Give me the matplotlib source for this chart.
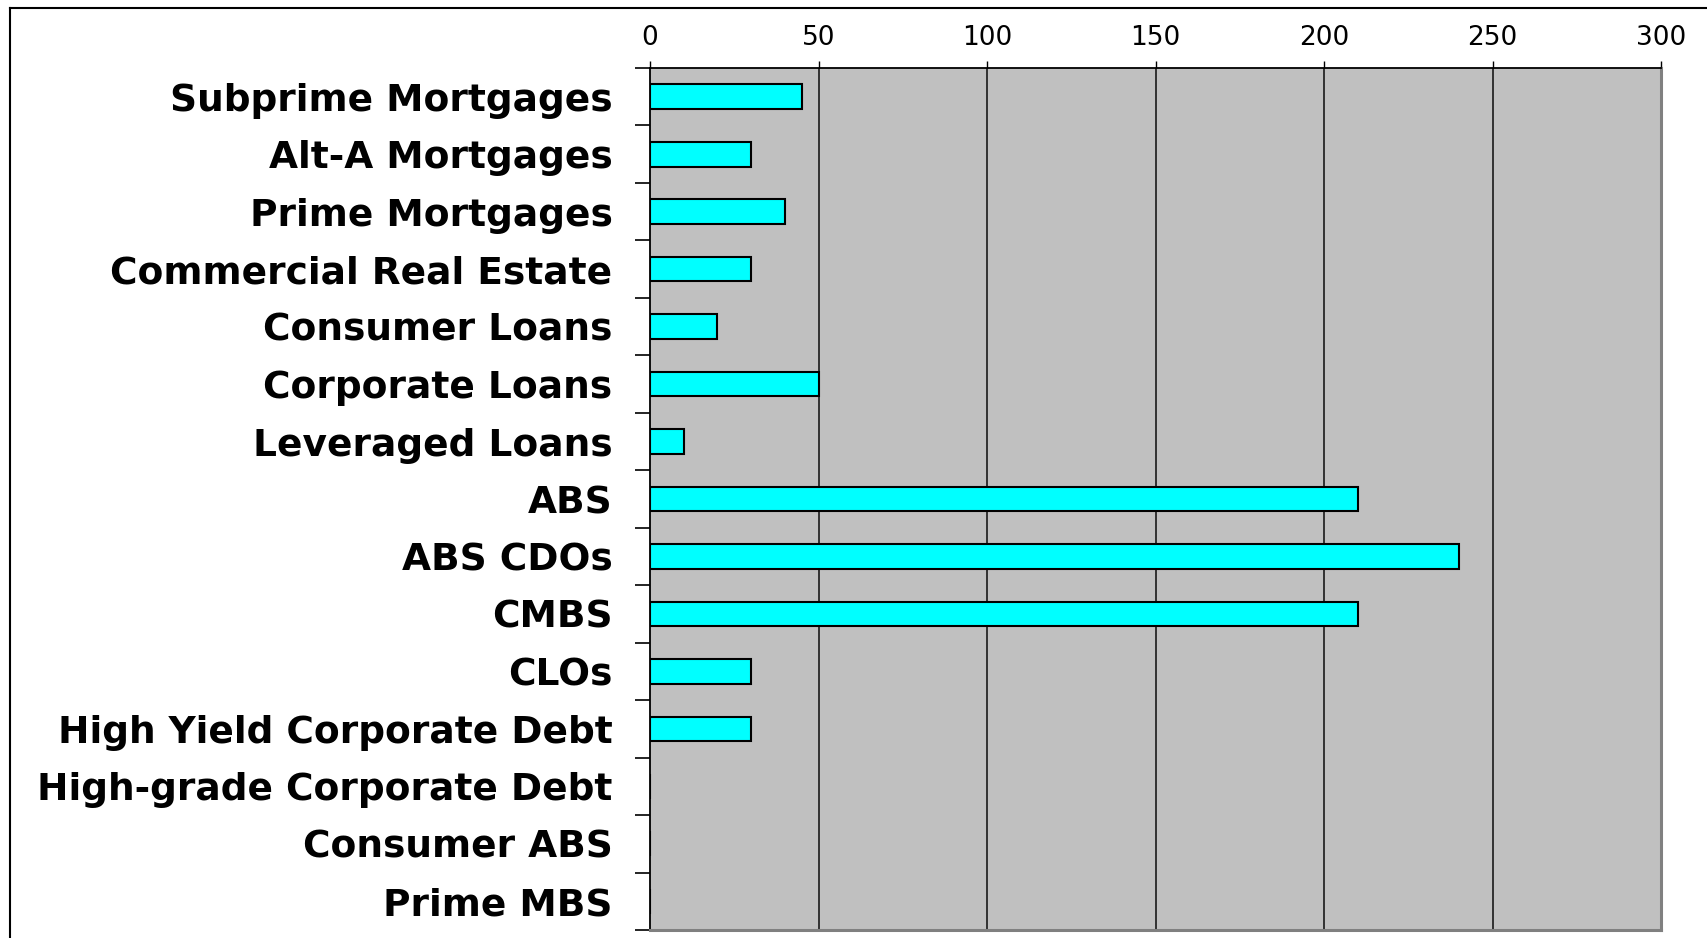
import matplotlib.pyplot as plt
from matplotlib.lines import Line2D
import numpy as np

# Datos
categorias = ['Subprime Mortgages', 'Alt-A Mortgages', 'Prime Mortgages',
              'Commercial Real Estate', 'Consumer Loans', 'Corporate Loans',
              'Leveraged Loans', 'ABS', 'ABS CDOs', 'CMBS', 'CLOs',
              'High Yield Corporate Debt', 'High-grade Corporate Debt',
              'Consumer ABS', 'Prime MBS']
valores = [45, 30, 40, 30, 20, 50, 10, 210, 240, 210, 30, 30, 0, 0, 0]
ticks_x = [0, 50, 100, 150, 200, 250, 300]

W, H = 1707, 938
fig = plt.figure(figsize=(W / 100, H / 100), dpi=100)
ax = fig.add_axes([650 / W, 1 - 930 / H, (1661 - 650) / W, (930 - 68) / H])
ax.set_facecolor('#c0c0c0')

pos = np.arange(len(categorias))
ax.barh(pos, valores, height=0.43, color='#00ffff', edgecolor='black',
        linewidth=1.5, zorder=3)

ax.set_xlim(0, 300)
ax.set_ylim(len(categorias) - 0.5, -0.5)

# Lineas de cuadricula verticales
for v in ticks_x[1:-1]:
    ax.axvline(v, color='#1a1a1a', linewidth=1.2, zorder=1)

# Eje X arriba
ax.xaxis.tick_top()
ax.set_xticks(ticks_x)
ax.set_xticklabels([str(t) for t in ticks_x], fontsize=19, family='DejaVu Sans')
ax.tick_params(axis='x', direction='out', length=5, width=1, pad=7)

# Eje Y: marcas en los limites, etiquetas en el centro
ax.set_yticks(np.arange(len(categorias) + 1) - 0.5)
ax.set_yticklabels([])
ax.set_yticks(pos, minor=True)
ax.set_yticklabels(categorias, minor=True, fontsize=27, fontweight='bold',
                   family='DejaVu Sans')
ax.tick_params(axis='y', which='major', direction='out', length=11, width=1.2)
ax.tick_params(axis='y', which='minor', length=0, pad=27)

ax.spines['top'].set_color('black')
ax.spines['top'].set_linewidth(1.3)
ax.spines['left'].set_color('black')
ax.spines['left'].set_linewidth(1.3)
ax.spines['right'].set_color('#808080')
ax.spines['right'].set_linewidth(2.2)
ax.spines['bottom'].set_color('#808080')
ax.spines['bottom'].set_linewidth(2.2)

# Marco exterior
fig.add_artist(Line2D([10 / W, 1], [1 - 8 / H, 1 - 8 / H], color='black',
                      linewidth=1.5, transform=fig.transFigure))
fig.add_artist(Line2D([10 / W, 10 / W], [0, 1 - 8 / H], color='black',
                      linewidth=1.5, transform=fig.transFigure))

fig.savefig('out.png', dpi=100)
